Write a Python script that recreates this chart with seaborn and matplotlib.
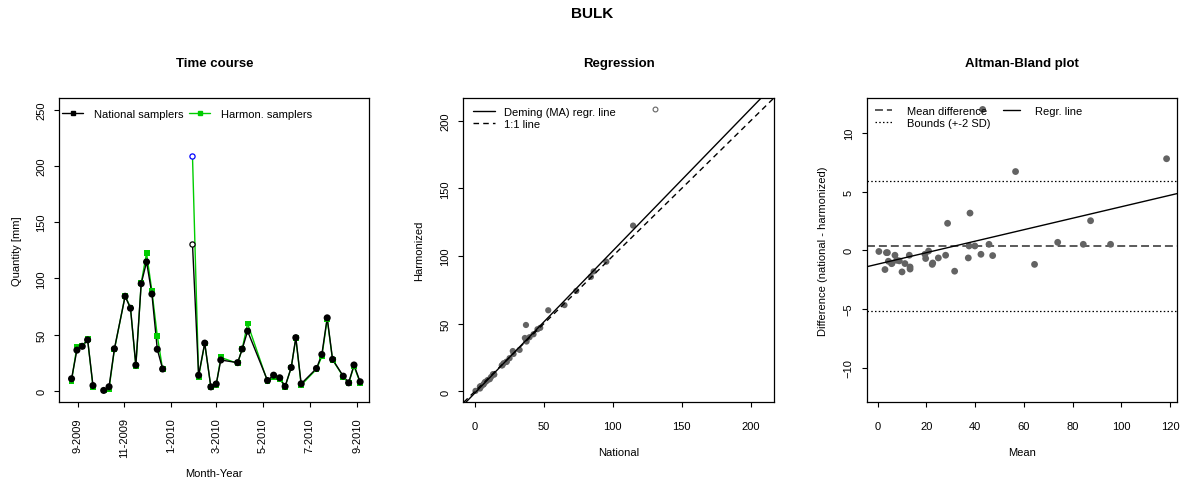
import numpy as np
import pandas as pd
import matplotlib
matplotlib.use("Agg")
import matplotlib.pyplot as plt
from matplotlib.lines import Line2D
import seaborn as sns

# ---------------- data ----------------
dates = ["2009-08-24", "2009-08-31", "2009-09-07", "2009-09-14", "2009-09-21", "2009-09-28",
         "2009-10-05", "2009-10-12", "2009-10-19", "2009-11-02", "2009-11-09", "2009-11-16",
         "2009-11-23", "2009-11-30", "2009-12-07", "2009-12-14", "2009-12-21", "2010-01-04",
         "2010-01-29", "2010-02-06", "2010-02-14", "2010-02-22", "2010-03-01", "2010-03-07",
         "2010-03-29", "2010-04-04", "2010-04-11", "2010-05-07", "2010-05-15", "2010-05-23",
         "2010-05-30", "2010-06-07", "2010-06-13", "2010-06-20", "2010-07-10", "2010-07-17",
         "2010-07-24", "2010-07-31", "2010-08-14", "2010-08-21", "2010-08-28", "2010-09-05"]
national = [10.92, 36.32, 39.72, 45.45, 4.87, np.nan,
            0.55, 3.82, 37.53, 84.15, 73.56, 23.00,
            95.35, 114.70, 86.14, 37.10, 19.57, np.nan,
            130.5, 14.01, 42.57, 3.70, 6.27, 27.55,
            25.23, 37.32, 53.25, 9.35, 14.10, 11.77,
            4.10, 20.93, 47.43, 6.45, 20.05, 32.49,
            65.00, 28.11, 13.21, 7.31, 23.14, 8.23]
harmonized = [9.08, 39.49, 40.09, 45.96, 3.94, np.nan,
              0.45, 2.18, 36.88, 84.66, 74.24, 21.80,
              95.86, 122.50, 88.66, 49.10, 19.23, np.nan,
              208.8, 12.59, 42.23, 3.50, 5.13, 29.85,
              24.58, 37.69, 59.96, 8.45, 12.50, 10.64,
              3.90, 20.87, 46.98, 5.35, 19.35, 30.71,
              63.80, 27.69, 12.79, 6.89, 22.06, 7.38]
outlier_date = "2010-01-29"

tick_dates = ["2009-09-01", "2009-11-01", "2010-01-01", "2010-03-01",
              "2010-05-01", "2010-07-01", "2010-09-01"]
tick_labels = ["9-2009", "11-2009", "1-2010", "3-2010", "5-2010", "7-2010", "9-2010"]

series_labels = ["National samplers", "Harmon. samplers"]
reg_labels = ["Deming (MA) regr. line", "1:1 line"]
ab_labels = ["Mean difference", "Bounds (+-2 SD)", "Regr. line"]

# ---------------- style ----------------
sns.set_style("white")
plt.rcParams['font.family'] = ['Liberation Sans', 'DejaVu Sans']
plt.rcParams['axes.edgecolor'] = 'black'
plt.rcParams['axes.linewidth'] = 0.9
plt.rcParams['xtick.color'] = 'black'
plt.rcParams['ytick.color'] = 'black'
plt.rcParams['text.color'] = 'black'
plt.rcParams['axes.labelcolor'] = 'black'

GREEN = '#00CD00'
GRAY = '#636363'
FS = 8

df = pd.DataFrame({'date': pd.to_datetime(dates),
                   'national': national,
                   'harmonized': harmonized})
df['outlier'] = df['date'] == pd.Timestamp(outlier_date)
valid = df.dropna()
normal = valid[~valid['outlier']].copy()
outl = valid[valid['outlier']]

W, H = 1184, 481
fig = plt.figure(figsize=(W / 100, H / 100), dpi=100)


def box(l, r, t, b):
    return [l / W, (H - b) / H, (r - l) / W, (b - t) / H]


ax1 = fig.add_axes(box(59.3, 369.3, 99.3, 403.3))
ax2 = fig.add_axes(box(463.3, 774.0, 99.3, 403.3))
ax3 = fig.add_axes(box(866.7, 1177.3, 99.3, 403.3))


def style_axes(ax, xpad, rot_x=False):
    ax.tick_params(axis='both', direction='out', length=3.6, width=0.8,
                   labelsize=FS, bottom=True, left=True)
    ax.tick_params(axis='y', pad=5.8)
    ax.tick_params(axis='x', pad=xpad)
    for lab in ax.get_yticklabels():
        lab.set_rotation(90)
        lab.set_va('center')
        lab.set_ha('right')
    if rot_x:
        for lab in ax.get_xticklabels():
            lab.set_rotation(90)
            lab.set_va('top')
            lab.set_ha('center')
    for s in ax.spines.values():
        s.set_visible(True)
        s.set_color('black')
        s.set_linewidth(0.9)


# ---------------- Time course ----------------
ax1.plot(df['date'], df['harmonized'], color=GREEN, lw=1.0, zorder=2)
ax1.plot(df['date'], df['national'], color='black', lw=1.0, zorder=3)
sns.scatterplot(data=normal, x='date', y='harmonized', marker='s', color=GREEN,
                s=18, edgecolor='none', ax=ax1, zorder=4)
sns.scatterplot(data=normal, x='date', y='national', marker='o', color='black',
                s=26, edgecolor='none', ax=ax1, zorder=5)
ax1.scatter(outl['date'], outl['harmonized'], s=14, facecolors='white',
            edgecolors='blue', linewidths=0.9, zorder=6)
ax1.scatter(outl['date'], outl['national'], s=14, facecolors='white',
            edgecolors='black', linewidths=0.9, zorder=6)
ax1.set_xlim(pd.Timestamp("2009-08-08"), pd.Timestamp("2010-09-17"))
ax1.set_ylim(-10, 260)
ax1.set_xticks(pd.to_datetime(tick_dates))
ax1.set_xticklabels(tick_labels)
ax1.set_yticks([0, 50, 100, 150, 200, 250])
style_axes(ax1, xpad=7.2, rot_x=True)
ax1.set_xlabel("Month-Year", fontsize=FS)
ax1.set_ylabel("Quantity [mm]", fontsize=FS)
ax1.xaxis.set_label_coords(0.5, -0.2326)
ax1.yaxis.set_label_coords(-0.1374, 0.5)
ax1.xaxis.label.set_va('center')
ax1.yaxis.label.set_va('center')
ax1.set_title("Time course", fontsize=9.5, fontweight='bold', pad=23.5)
h1 = [Line2D([], [], color='black', lw=1, marker='s', markersize=3.2),
      Line2D([], [], color=GREEN, lw=1, marker='s', markersize=3.2)]
ax1.legend(h1, series_labels, ncol=2, loc='upper left', frameon=False, fontsize=FS,
           bbox_to_anchor=(0.0087, 0.966), borderpad=0, borderaxespad=0,
           handlelength=1.9, handletextpad=1.0, columnspacing=0.5)

# ---------------- Regression ----------------
x = normal['national'].to_numpy()
y = normal['harmonized'].to_numpy()
sxx = np.var(x, ddof=1)
syy = np.var(y, ddof=1)
sxy = np.cov(x, y, ddof=1)[0, 1]
b_ma = (syy - sxx + np.sqrt((syy - sxx) ** 2 + 4 * sxy ** 2)) / (2 * sxy)
a_ma = y.mean() - b_ma * x.mean()

sns.scatterplot(data=normal, x='national', y='harmonized', color=GRAY, s=20,
                edgecolor='none', ax=ax2, zorder=3)
ax2.scatter(outl['national'], outl['harmonized'], s=12, facecolors='white',
            edgecolors=GRAY, linewidths=0.8, zorder=3)
ax2.axline((0, a_ma), slope=b_ma, color='black', lw=1.0, zorder=4)
ax2.axline((0, 0), slope=1, color='black', lw=1.0, dashes=(4, 3), zorder=4)
ax2.set_xlim(-8.3, 216.8)
ax2.set_ylim(-8.0, 216.5)
ax2.set_xticks([0, 50, 100, 150, 200])
ax2.set_yticks([0, 50, 100, 150, 200])
style_axes(ax2, xpad=10)
ax2.set_xlabel("National", fontsize=FS)
ax2.set_ylabel("Harmonized", fontsize=FS)
ax2.xaxis.set_label_coords(0.5, -0.1625)
ax2.yaxis.set_label_coords(-0.1416, 0.5)
ax2.xaxis.label.set_va('center')
ax2.yaxis.label.set_va('center')
ax2.set_title("Regression", fontsize=9.5, fontweight='bold', pad=23.5)
h2 = [Line2D([], [], color='black', lw=1),
      Line2D([], [], color='black', lw=1, dashes=(4, 3))]
ax2.legend(h2, reg_labels, loc='upper left', frameon=False, fontsize=FS,
           bbox_to_anchor=(0.031, 0.971), borderpad=0, borderaxespad=0,
           handlelength=2.0, handletextpad=0.8, labelspacing=0.15)

# ---------------- Altman-Bland ----------------
normal['mean'] = (normal['national'] + normal['harmonized']) / 2
normal['diff'] = normal['harmonized'] - normal['national']
md = normal['diff'].mean()
sd = normal['diff'].std(ddof=1)
slope_ab, icpt_ab = np.polyfit(normal['mean'], normal['diff'], 1)

sns.scatterplot(data=normal, x='mean', y='diff', color=GRAY, s=24,
                edgecolor='none', ax=ax3, zorder=3)
ax3.axhline(md, color='#4d4d4d', lw=1.3, dashes=(4.4, 2.2), zorder=2)
ax3.axhline(md + 2 * sd, color='black', lw=0.9, dashes=(1.2, 1.8), zorder=2)
ax3.axhline(md - 2 * sd, color='black', lw=0.9, dashes=(1.2, 1.8), zorder=2)
ax3.axline((0, icpt_ab), slope=slope_ab, color='black', lw=1.0, zorder=4)
ax3.set_xlim(-4.5, 123)
ax3.set_ylim(-12.95, 12.95)
ax3.set_xticks([0, 20, 40, 60, 80, 100, 120])
ax3.set_yticks([-10, -5, 0, 5, 10])
style_axes(ax3, xpad=10)
ax3.set_xlabel("Mean", fontsize=FS)
ax3.set_ylabel("Difference (national - harmonized)", fontsize=FS)
ax3.xaxis.set_label_coords(0.5, -0.1625)
ax3.yaxis.set_label_coords(-0.1417, 0.5)
ax3.xaxis.label.set_va('center')
ax3.yaxis.label.set_va('center')
ax3.set_title("Altman-Bland plot", fontsize=9.5, fontweight='bold', pad=23.5)
h3 = [Line2D([], [], color='#4d4d4d', lw=1.3, dashes=(4.4, 2.2)),
      Line2D([], [], color='black', lw=0.9, dashes=(1.2, 1.8)),
      Line2D([], [], color='black', lw=1.0)]
ax3.legend(h3, ab_labels, ncol=2, loc='upper left', frameon=False, fontsize=FS,
           bbox_to_anchor=(0.027, 0.974), borderpad=0, borderaxespad=0,
           handlelength=1.5, handletextpad=1.4, columnspacing=1.1, labelspacing=0.15)

fig.text(0.5, 1 - 18.3 / H, "BULK", ha='center', va='baseline',
         fontsize=11, fontweight='bold')

fig.savefig("out.png", dpi=100)
